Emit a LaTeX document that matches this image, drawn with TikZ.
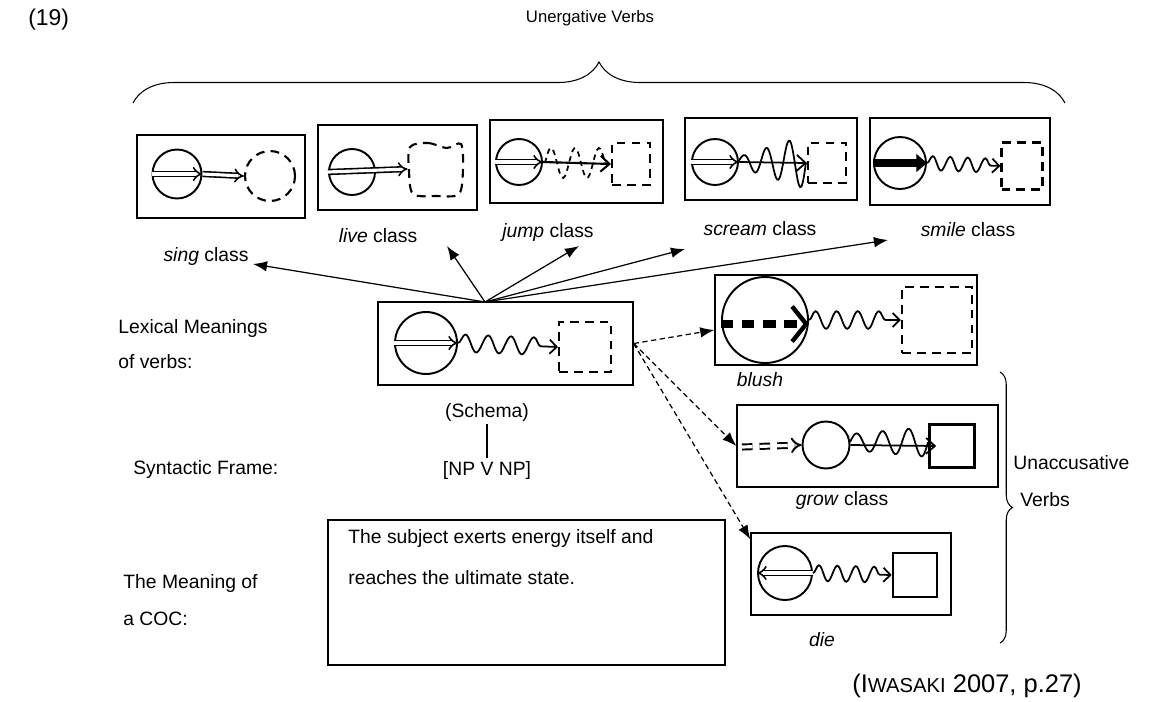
\documentclass[tikz,border=0pt]{standalone}
\usepackage{fontspec}
\setmainfont{Liberation Sans}
\usetikzlibrary{arrows.meta,decorations.pathmorphing,decorations.pathreplacing,positioning}
\tikzset{
  frame/.style={draw, line width=0.8pt, inner sep=0pt},
  txt/.style={font=\fontsize{11}{13}\selectfont, inner sep=0pt},
  agent/.style={draw, circle, line width=1.1pt, inner sep=0pt},
  goal/.style={draw, line width=1.2pt, dash pattern=on 5pt off 3.5pt, inner sep=0pt},
  endst/.style={draw, line width=1.5pt, inner sep=0pt},
  force/.style={double, double distance=1.8pt, line width=0.9pt, -{Implies}},
  wave/.style={line width=1pt, decorate, decoration={snake, amplitude=5pt, segment length=13pt, post length=4pt}, -{Straight Barb[length=4pt,width=8pt]}},
  barb/.style={line width=1pt, -{Straight Barb[length=5pt,width=9pt]}},
  link/.style={line width=0.7pt, -{Latex[length=8pt,width=6pt]}},
  dlink/.style={link, dash pattern=on 3pt off 2pt},
}
\begin{document}
\begin{tikzpicture}[x=0.02cm, y=-0.02cm]
  \useasboundingbox (0,0) rectangle (1153,701);

  \node[txt, font=\fontsize{13}{15}\selectfont, anchor=west] (num) at (28,20) {(19)};
  \node[txt, font=\fontsize{9.5}{11}\selectfont] (unerg) at (590,18) {Unergative Verbs};
  \coordinate (ubL) at (133,103);
  \coordinate (ubR) at (1065,103);
  \draw[line width=0.6pt, decorate, decoration={brace, amplitude=0.82cm}] (ubL) -- (ubR);

  % unergative classes
  \node[frame, minimum width=3.36cm, minimum height=1.66cm] (sing) at (221,176.5) {};
  \node[agent, minimum size=0.98cm] (singA) at (177,174) {};
  \node[goal, circle, minimum size=1cm] (singG) at (270,176) {};
  \draw[force] (singA.west) -- (singA.east);
  \draw[force] (singA.east) -- (singG.west);

  \node[frame, minimum width=3.18cm, minimum height=1.7cm] (live) at (397.5,167.5) {};
  \node[agent, minimum size=0.92cm] (liveA) at (352,172) {};
  \node[inner sep=0pt, minimum width=1.08cm, minimum height=1.14cm] (liveG) at (435,169) {};
  \draw[goal] plot[smooth cycle] coordinates {(410,147) (428,143) (447,148) (461,144) (463,168) (459,194) (436,196) (413,194) (409,171)};
  \draw[force] (liveA.west) -- (liveG.west);

  \node[frame, minimum width=3.46cm, minimum height=1.66cm] (jump) at (576.5,161.5) {};
  \node[agent, minimum size=0.92cm] (jumpA) at (519,162) {};
  \node[goal, minimum width=0.76cm, minimum height=0.84cm] (jumpG) at (631,164) {};
  \draw[force] (jumpA.west) -- (jumpA.east);
  \draw[line width=1.2pt, -{Straight Barb[length=5pt,width=9pt]}] (jumpA.east) -- (jumpG.west);
  \draw[line width=1pt, dash pattern=on 3pt off 2.5pt] plot[smooth, domain=0:1, samples=40] ({545+60*\x},{163-15*sin(2.5*360*\x)});

  \node[frame, minimum width=3.44cm, minimum height=1.64cm] (scream) at (771,159) {};
  \node[agent, minimum size=0.92cm] (screamA) at (715,162) {};
  \node[goal, minimum width=0.76cm, minimum height=0.8cm] (screamG) at (827,163) {};
  \draw[force] (screamA.west) -- (screamA.east);
  \draw[barb] (screamA.east) -- (screamG.west);
  \draw[line width=1pt] plot[smooth, domain=0:1, samples=60] ({738+68*\x},{162-(5+22*\x)*sin(3*360*\x)});

  \node[frame, minimum width=3.6cm, minimum height=1.74cm] (smile) at (960,161.5) {};
  \node[agent, minimum size=1.04cm] (smileA) at (900,163) {};
  \node[goal, minimum width=0.82cm, minimum height=0.94cm] (smileG) at (1022,166) {};
  \draw[line width=4pt, -{Triangle[length=6pt,width=10pt]}] (smileA.west) -- (smileA.east);
  \draw[wave, decoration={amplitude=4pt, segment length=10pt}] (smileA.east) -- (smileG.west);

  \node[txt] (singL) at (206,256) {\textit{sing} class};
  \node[txt] (liveL) at (378,236) {\textit{live} class};
  \node[txt] (jumpL) at (548,232) {\textit{jump} class};
  \node[txt] (screamL) at (760,229) {\textit{scream} class};
  \node[txt] (smileL) at (968,230) {\textit{smile} class};

  % schema
  \node[frame, minimum width=5.1cm, minimum height=1.66cm] (schema) at (505.5,343.5) {};
  \node[agent, minimum size=1.24cm] (schemaA) at (426,343) {};
  \node[goal, minimum width=1.04cm, minimum height=1cm] (schemaG) at (585,347) {};
  \draw[force] (schemaA.west) -- (schemaA.east);
  \draw[wave] (schemaA.east) -- (schemaG.west);

  \coordinate (fan) at (485,302);
  \coordinate (singT) at (253,264);
  \coordinate (liveT) at (447,246);
  \coordinate (jumpT) at (579,246);
  \coordinate (screamT) at (685,249);
  \coordinate (smileT) at (888,240);
  \foreach \t in {singT,liveT,jumpT,screamT,smileT}
    \draw[link] (fan) -- (\t);

  \node[txt, inner sep=1.5pt] (schemaL) at (487,412) {(Schema)};
  \node[txt, inner sep=1.5pt] (frameL) at (487,470) {[NP V NP]};
  \draw[line width=0.6pt] (schemaL) -- (frameL);

  % left labels
  \node[txt, align=left, anchor=west, font=\fontsize{11}{19.5}\selectfont] (lexL) at (118,344) {Lexical Meanings\\of verbs:};
  \node[txt, anchor=west] (synL) at (133,469) {Syntactic Frame:};
  \node[txt, align=left, anchor=west, font=\fontsize{11}{21}\selectfont] (cocL) at (123,600) {The Meaning of\\a COC:};

  \node[frame, minimum width=7.94cm, minimum height=2.9cm] (coc) at (526.5,592.5) {};
  \node[txt, align=left, anchor=west, font=\fontsize{11}{23.2}\selectfont] (cocT) at (348,557) {The subject exerts energy itself and\\reaches the ultimate state.};

  % unaccusative verbs
  \node[frame, minimum width=5.24cm, minimum height=1.8cm] (blush) at (846,320) {};
  \node[agent, minimum size=1.72cm] (blushA) at (765,320) {};
  \node[goal, minimum width=1.4cm, minimum height=1.32cm] (blushG) at (937,320) {};
  \draw[line width=5pt, dash pattern=on 7pt off 5pt, -{Straight Barb[length=8pt,width=20pt,line width=2.5pt]}] ([yshift=-0.08cm]blushA.west) -- ([yshift=-0.08cm]blushA.east);
  \draw[wave, decoration={amplitude=5pt, segment length=12pt}] (blushA.east) -- (blushG.west);
  \node[txt] (blushL) at (760,380) {\textit{blush}};

  \node[frame, minimum width=5.22cm, minimum height=1.64cm] (grow) at (867.5,446) {};
  \node[agent, minimum size=0.94cm] (growA) at (826,445) {};
  \node[endst, minimum width=0.9cm, minimum height=0.86cm] (growG) at (952,446) {};
  \coordinate (growS) at (742,447);
  \draw[force, line width=1.1pt, dash pattern=on 6pt off 4pt] (growS) -- (growA.west);
  \draw[barb] (growA.east) -- ([xshift=0.16cm]growG.west);
  \draw[line width=1pt] plot[smooth, domain=0:1, samples=60] ({850+78*\x},{442-(8+7*\x)*sin(3*360*\x)});
  \node[txt] (growL) at (842,500) {\textit{grow} class};

  \node[frame, minimum width=4cm, minimum height=1.64cm] (die) at (851,574) {};
  \node[agent, minimum size=1.08cm] (dieA) at (785,573) {};
  \node[endst, minimum size=0.88cm] (dieG) at (915,575) {};
  \draw[force] (dieA.east) -- (dieA.west);
  \draw[wave, decoration={amplitude=4.5pt, segment length=10.5pt}] (dieA.east) -- (dieG.west);
  \node[txt] (dieL) at (822,640) {\textit{die}};

  \draw[dlink] (schema.east) -- ([yshift=-0.2cm]blush.west);
  \draw[dlink] (schema.east) -- (grow.west);
  \draw[dlink] (schema.east) -- ([yshift=-0.14cm]die.north west);

  \coordinate (rbT) at (1000,372);
  \coordinate (rbB) at (1000,643);
  \draw[line width=0.6pt, decorate, decoration={brace, amplitude=0.25cm}] (rbT) -- (rbB);
  \node[txt, align=left, anchor=west, font=\fontsize{11}{21.5}\selectfont] (unacc) at (1013,481) {Unaccusative\\\hspace*{0.14cm}Verbs};

  \node[txt, font=\fontsize{14.5}{16}\selectfont, anchor=west] (src) at (852,686) {(I{\fontsize{11.5}{13}\selectfont WASAKI} 2007, p.27)};
\end{tikzpicture}
\end{document}
